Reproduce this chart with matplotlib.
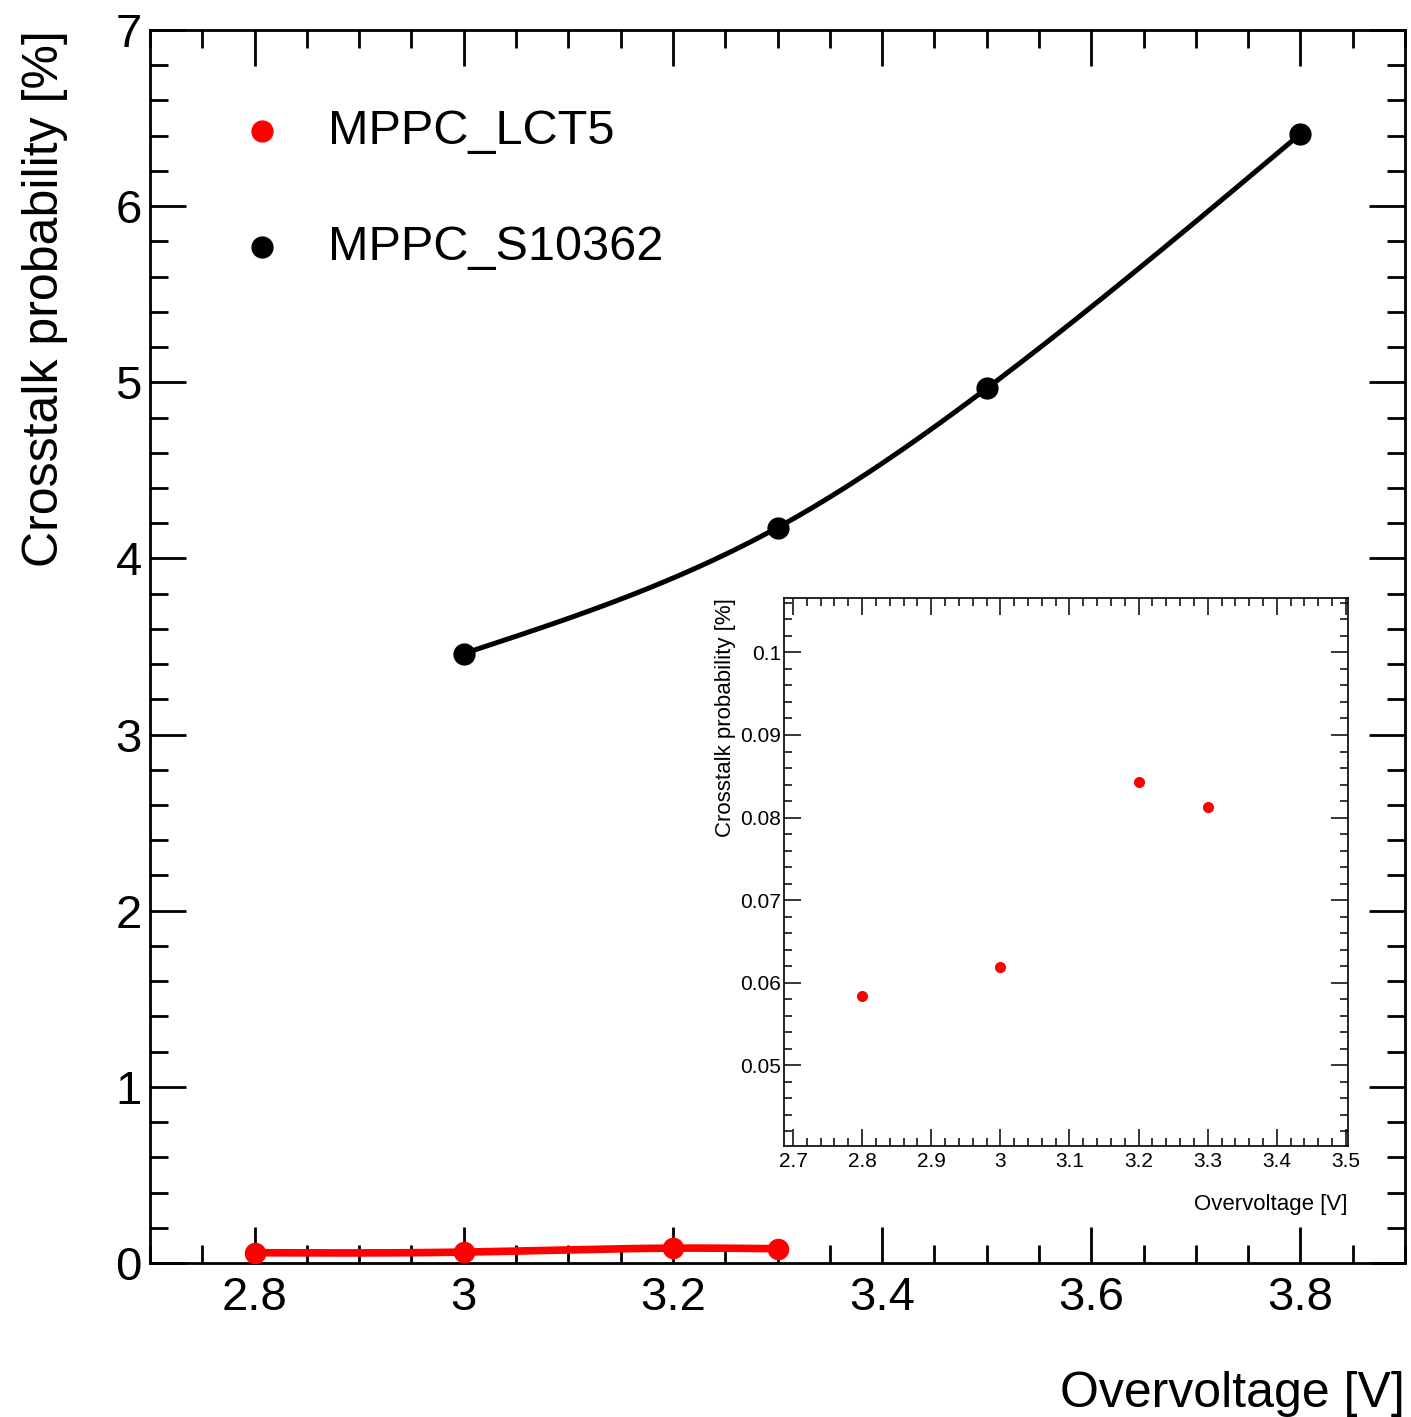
import numpy as np
import matplotlib
matplotlib.use("Agg")
import matplotlib.pyplot as plt
from matplotlib.ticker import MultipleLocator, FuncFormatter

plt.rcParams['font.family'] = ['Liberation Sans', 'DejaVu Sans']

# --- datos ---
v_lct5 = [2.8, 3.0, 3.2, 3.3]
xt_lct5 = [0.0584, 0.0619, 0.0843, 0.0813]

v_s10362 = [3.0, 3.3, 3.5, 3.8]
xt_s10362 = [3.46, 4.175, 4.965, 6.41]

labels = ["MPPC_LCT5", "MPPC_S10362"]
colors = ["red", "black"]


def spline_natural(x, y, n=300):
    """Curva suave tipo opcion 'C' de ROOT (spline cubico natural)."""
    x = np.asarray(x, float)
    y = np.asarray(y, float)
    k = len(x)
    h = np.diff(x)
    A = np.zeros((k, k))
    b = np.zeros(k)
    A[0, 0] = A[-1, -1] = 1.0
    for i in range(1, k - 1):
        A[i, i - 1] = h[i - 1]
        A[i, i] = 2 * (h[i - 1] + h[i])
        A[i, i + 1] = h[i]
        b[i] = 6 * ((y[i + 1] - y[i]) / h[i] - (y[i] - y[i - 1]) / h[i - 1])
    M = np.linalg.solve(A, b)
    xs = np.linspace(x[0], x[-1], n)
    idx = np.clip(np.searchsorted(x, xs) - 1, 0, k - 2)
    x0, x1 = x[idx], x[idx + 1]
    hh = x1 - x0
    t0, t1 = x1 - xs, xs - x0
    ys = (M[idx] * t0**3 + M[idx + 1] * t1**3) / (6 * hh) \
        + (y[idx] / hh - M[idx] * hh / 6) * t0 \
        + (y[idx + 1] / hh - M[idx + 1] * hh / 6) * t1
    return xs, ys


def fmt_root(v, pos):
    s = f"{v:.2f}".rstrip("0").rstrip(".")
    return s


fig = plt.figure(figsize=(14.11, 14.17), dpi=100)

# --- grafico principal ---
ax = fig.add_axes([150 / 1411, 154 / 1417, 1255 / 1411, 1233 / 1417])

xs, ys = spline_natural(v_s10362, xt_s10362)
ax.plot(xs, ys, color="black", lw=3.6, zorder=2)
ax.plot(v_s10362, xt_s10362, "o", color="black", ms=15, zorder=3)

xs, ys = spline_natural(v_lct5, xt_lct5)
ax.plot(xs, ys, color="red", lw=5.5, zorder=2)
ax.plot(v_lct5, xt_lct5, "o", color="red", ms=14.5, zorder=3)

ax.set_xlim(2.7, 3.9)
ax.set_ylim(0, 7)
ax.xaxis.set_major_locator(MultipleLocator(0.2))
ax.xaxis.set_minor_locator(MultipleLocator(0.05))
ax.yaxis.set_major_locator(MultipleLocator(1))
ax.yaxis.set_minor_locator(MultipleLocator(0.2))
ax.xaxis.set_major_formatter(FuncFormatter(fmt_root))
ax.tick_params(which="both", direction="in", top=True, right=True, width=2)
ax.tick_params(which="major", length=26)
ax.tick_params(which="minor", length=13)
ax.tick_params(axis="x", labelsize=34, pad=9)
ax.tick_params(axis="y", labelsize=34, pad=6)
for sp in ax.spines.values():
    sp.set_linewidth(2)

ax.set_xlabel("Overvoltage [V]", fontsize=36, loc="right", labelpad=37)
ax.set_ylabel("Crosstalk probability [%]", fontsize=36, loc="top")
ax.yaxis.set_label_coords(-0.065, 1.0)

# leyenda
for i, (lab, col) in enumerate(zip(labels, colors)):
    yy = 0.918 - i * 0.094
    ax.plot([0.0892], [yy], "o", color=col, ms=15, transform=ax.transAxes, clip_on=False)
    ax.text(0.1418, yy, lab, fontsize=35, va="center", ha="left", transform=ax.transAxes)

# --- recuadro ---
ins = fig.add_axes([784 / 1411, 271 / 1417, 564 / 1411, 548 / 1417])
ins.plot(v_lct5, xt_lct5, "o", color="red", ms=7)
ins.set_xlim(2.687, 3.503)
ins.set_ylim(0.0402, 0.1066)
ins.xaxis.set_major_locator(MultipleLocator(0.1))
ins.xaxis.set_minor_locator(MultipleLocator(0.02))
ins.yaxis.set_major_locator(MultipleLocator(0.01))
ins.yaxis.set_minor_locator(MultipleLocator(0.002))
ins.xaxis.set_major_formatter(FuncFormatter(fmt_root))
ins.yaxis.set_major_formatter(FuncFormatter(fmt_root))
ins.tick_params(which="both", direction="in", top=True, right=True, width=1.1)
ins.tick_params(which="major", length=12)
ins.tick_params(which="minor", length=6)
ins.tick_params(labelsize=15, pad=2)
ins.tick_params(axis="x", pad=4)
for sp in ins.spines.values():
    sp.set_linewidth(1.2)
ins.set_xlabel("Overvoltage [V]", fontsize=16, loc="right", labelpad=17)
ins.set_ylabel("Crosstalk probability [%]", fontsize=16, loc="top")
ins.yaxis.set_label_coords(-0.085, 1.0)

fig.savefig("out.png", dpi=100)
